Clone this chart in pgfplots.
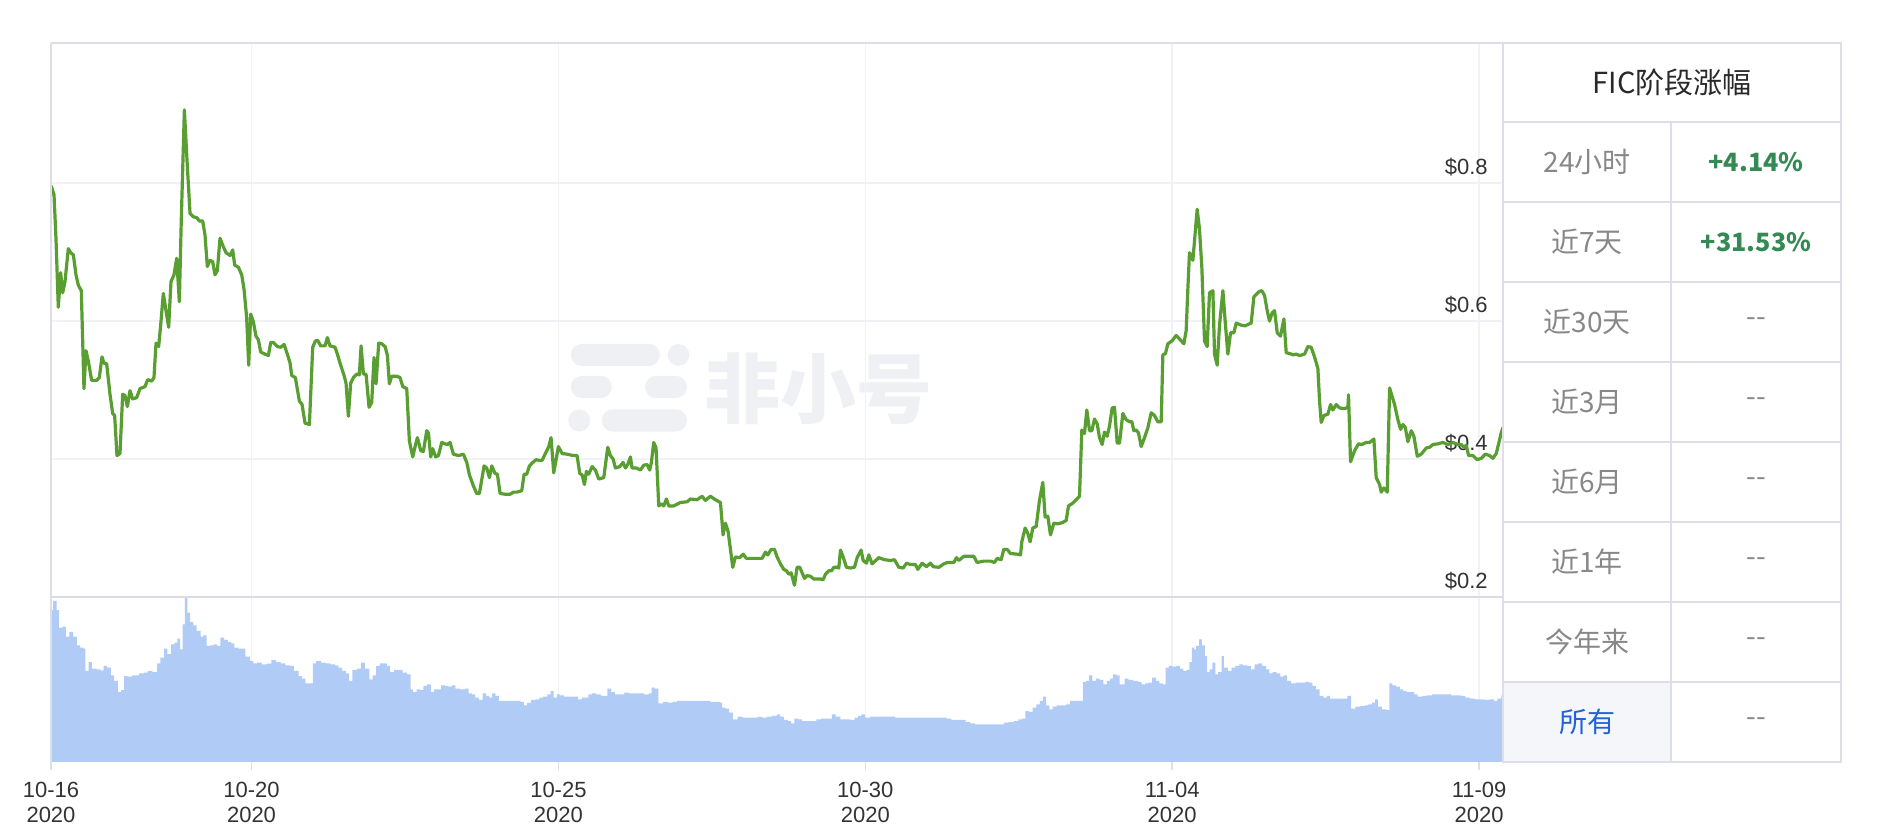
\documentclass[border=0pt]{standalone}
\usepackage{fontspec}
\setmainfont{Liberation Sans}
\newfontfamily\cjk{Noto Sans CJK SC}
\usepackage{pgfplots}
\pgfplotsset{compat=1.18}
\definecolor{pricegreen}{RGB}{88,158,48}
\definecolor{volblue}{RGB}{176,203,246}
\definecolor{gridc}{RGB}{241,242,246}
\definecolor{borderc}{RGB}{221,222,234}
\definecolor{labc}{RGB}{51,51,51}
\definecolor{tabgray}{RGB}{136,136,136}
\definecolor{tabgreen}{RGB}{52,137,84}
\definecolor{tabblue}{RGB}{33,99,214}
\definecolor{selbg}{RGB}{245,246,250}
\definecolor{wm}{RGB}{238,240,243}
\begin{document}
\begin{tikzpicture}[x=1pt,y=1pt]
\fill[white] (0,0) rectangle (940,417);
% watermark
\fill[wm, rounded corners=5.5pt] (285.4,234) rectangle (330,245);
\fill[wm] (339.25,239.5) circle (5.4);
\fill[wm, rounded corners=5.5pt] (285.4,218) rectangle (305.9,229);
\fill[wm, rounded corners=5.5pt] (322.5,218) rectangle (343.5,229);
\fill[wm] (289.6,206.75) circle (5.5);
\fill[wm, rounded corners=5.5pt] (300.9,201.2) rectangle (343.5,212.3);
\node[text=wm, font=\cjk\bfseries\fontsize{38}{38}\selectfont, inner sep=0pt] at (409,222.8) {非小号};

\begin{axis}[at={(25.5pt,118.5pt)}, anchor=south west, scale only axis,
  width=726pt, height=277pt,
  xmin=0.733, xmax=24.39, ymin=0.2, ymax=1.003,
  axis line style={draw=none},
  xtick={4,9,14,19,24}, xticklabels={},
  ytick={0.2,0.4,0.6,0.8}, yticklabels={\$0.2,\$0.4,\$0.6,\$0.8},
  yticklabel pos=right,
  yticklabel style={anchor=base east, xshift=-7.5pt, yshift=4.25pt, font=\fontsize{11}{12}\selectfont, text=labc, inner sep=0pt},
  grid=major, major grid style={draw=gridc, line width=0.8pt},
  major tick length=0pt]
\addplot[pricegreen, line width=1.6pt, line join=round] table {
d p
0.735 0.796
0.782 0.783
0.814 0.720
0.852 0.620
0.890 0.670
0.923 0.641
0.961 0.657
1.015 0.705
1.053 0.699
1.097 0.696
1.140 0.667
1.178 0.652
1.227 0.644
1.270 0.502
1.303 0.557
1.341 0.542
1.395 0.514
1.477 0.514
1.520 0.518
1.564 0.548
1.596 0.539
1.640 0.538
1.694 0.494
1.738 0.466
1.770 0.463
1.808 0.405
1.857 0.408
1.901 0.494
1.939 0.492
1.977 0.476
2.020 0.499
2.064 0.487
2.129 0.489
2.183 0.502
2.265 0.505
2.308 0.515
2.373 0.513
2.411 0.518
2.444 0.568
2.487 0.563
2.520 0.594
2.563 0.640
2.607 0.615
2.650 0.591
2.688 0.657
2.737 0.667
2.781 0.691
2.824 0.628
2.857 0.751
2.906 0.906
2.954 0.825
2.998 0.756
3.052 0.751
3.107 0.750
3.150 0.745
3.204 0.745
3.242 0.725
3.280 0.679
3.324 0.688
3.367 0.686
3.405 0.667
3.443 0.673
3.487 0.720
3.530 0.710
3.585 0.699
3.650 0.695
3.693 0.703
3.726 0.681
3.786 0.678
3.840 0.667
3.878 0.646
3.921 0.605
3.954 0.536
3.987 0.610
4.030 0.599
4.073 0.578
4.111 0.573
4.150 0.555
4.220 0.552
4.275 0.550
4.313 0.569
4.356 0.569
4.421 0.563
4.475 0.562
4.530 0.566
4.584 0.552
4.628 0.539
4.655 0.521
4.714 0.518
4.780 0.484
4.823 0.479
4.872 0.452
4.943 0.450
4.997 0.562
5.040 0.571
5.078 0.572
5.127 0.564
5.198 0.564
5.236 0.576
5.279 0.564
5.361 0.562
5.399 0.552
5.442 0.539
5.508 0.521
5.540 0.510
5.578 0.462
5.616 0.510
5.660 0.518
5.714 0.523
5.757 0.522
5.785 0.564
5.823 0.523
5.866 0.523
5.915 0.475
5.958 0.482
5.996 0.547
6.029 0.509
6.072 0.568
6.121 0.567
6.176 0.563
6.214 0.550
6.246 0.509
6.284 0.520
6.366 0.520
6.420 0.518
6.464 0.505
6.529 0.502
6.572 0.426
6.627 0.403
6.665 0.418
6.703 0.431
6.757 0.412
6.800 0.411
6.855 0.441
6.882 0.438
6.920 0.403
6.952 0.415
7.001 0.403
7.045 0.405
7.099 0.424
7.154 0.422
7.192 0.421
7.235 0.424
7.289 0.407
7.371 0.405
7.452 0.407
7.507 0.395
7.550 0.377
7.615 0.361
7.670 0.350
7.713 0.350
7.789 0.390
7.832 0.387
7.876 0.373
7.914 0.390
7.968 0.379
8.006 0.378
8.050 0.350
8.131 0.349
8.213 0.349
8.267 0.352
8.321 0.352
8.403 0.354
8.441 0.378
8.484 0.378
8.528 0.390
8.582 0.395
8.636 0.399
8.691 0.398
8.734 0.398
8.788 0.408
8.843 0.418
8.880 0.431
8.924 0.380
9.000 0.418
9.060 0.408
9.141 0.407
9.239 0.405
9.304 0.405
9.348 0.379
9.386 0.377
9.424 0.363
9.456 0.382
9.494 0.378
9.549 0.389
9.603 0.384
9.657 0.371
9.739 0.373
9.804 0.417
9.847 0.405
9.891 0.400
9.929 0.387
9.999 0.389
10.054 0.395
10.092 0.387
10.130 0.392
10.173 0.403
10.200 0.387
10.271 0.387
10.336 0.384
10.391 0.391
10.445 0.392
10.488 0.384
10.515 0.395
10.553 0.424
10.591 0.416
10.635 0.332
10.673 0.335
10.716 0.332
10.760 0.342
10.798 0.332
10.879 0.332
10.988 0.337
11.097 0.338
11.151 0.342
11.260 0.341
11.341 0.346
11.395 0.340
11.477 0.346
11.558 0.341
11.640 0.337
11.683 0.290
11.721 0.307
11.765 0.295
11.803 0.269
11.841 0.243
11.884 0.258
11.955 0.257
12.009 0.262
12.063 0.256
12.156 0.256
12.248 0.256
12.319 0.256
12.373 0.265
12.411 0.261
12.466 0.269
12.520 0.269
12.563 0.258
12.618 0.248
12.672 0.240
12.716 0.238
12.754 0.233
12.792 0.235
12.846 0.217
12.889 0.243
12.933 0.243
12.971 0.235
13.009 0.227
13.052 0.231
13.107 0.230
13.161 0.226
13.270 0.226
13.313 0.225
13.351 0.233
13.405 0.238
13.449 0.238
13.487 0.243
13.541 0.243
13.568 0.242
13.596 0.268
13.639 0.258
13.693 0.243
13.758 0.242
13.824 0.243
13.867 0.257
13.932 0.268
13.965 0.253
14.019 0.249
14.057 0.261
14.111 0.248
14.220 0.257
14.312 0.254
14.410 0.253
14.476 0.254
14.546 0.243
14.617 0.242
14.671 0.249
14.736 0.247
14.817 0.247
14.856 0.240
14.926 0.249
14.997 0.244
15.062 0.249
15.105 0.244
15.198 0.243
15.279 0.248
15.334 0.250
15.442 0.250
15.486 0.257
15.524 0.253
15.605 0.259
15.768 0.259
15.822 0.250
15.931 0.252
16.040 0.252
16.105 0.250
16.148 0.256
16.213 0.254
16.257 0.269
16.311 0.269
16.366 0.263
16.485 0.262
16.529 0.261
16.550 0.280
16.604 0.300
16.648 0.292
16.686 0.280
16.729 0.300
16.784 0.302
16.838 0.340
16.892 0.366
16.930 0.316
16.974 0.317
17.017 0.290
17.072 0.307
17.137 0.306
17.218 0.308
17.273 0.311
17.311 0.332
17.381 0.336
17.436 0.341
17.490 0.346
17.528 0.442
17.571 0.437
17.609 0.471
17.653 0.441
17.691 0.441
17.734 0.458
17.778 0.451
17.816 0.431
17.859 0.421
17.897 0.439
17.941 0.433
17.979 0.448
18.022 0.474
18.060 0.475
18.104 0.423
18.142 0.423
18.196 0.466
18.250 0.457
18.305 0.454
18.343 0.454
18.375 0.441
18.413 0.442
18.451 0.438
18.495 0.418
18.549 0.431
18.603 0.445
18.658 0.467
18.712 0.463
18.766 0.454
18.821 0.454
18.848 0.551
18.891 0.553
18.929 0.567
18.995 0.571
19.065 0.579
19.119 0.574
19.190 0.567
19.228 0.586
19.255 0.646
19.282 0.699
19.337 0.688
19.375 0.728
19.407 0.762
19.445 0.733
19.483 0.678
19.527 0.571
19.570 0.563
19.608 0.641
19.663 0.644
19.690 0.552
19.733 0.536
19.771 0.594
19.826 0.644
19.864 0.599
19.907 0.552
19.951 0.583
20.005 0.583
20.043 0.597
20.124 0.594
20.190 0.593
20.233 0.595
20.287 0.597
20.331 0.635
20.385 0.640
20.423 0.643
20.461 0.644
20.505 0.637
20.548 0.615
20.586 0.600
20.630 0.612
20.668 0.615
20.711 0.583
20.765 0.578
20.820 0.603
20.858 0.554
20.912 0.553
20.966 0.551
21.021 0.552
21.075 0.550
21.156 0.552
21.211 0.563
21.265 0.562
21.319 0.548
21.374 0.531
21.401 0.484
21.428 0.453
21.472 0.463
21.537 0.465
21.580 0.479
21.618 0.471
21.673 0.479
21.727 0.474
21.808 0.473
21.863 0.475
21.873 0.493
21.906 0.396
21.971 0.412
22.036 0.422
22.091 0.421
22.161 0.424
22.216 0.424
22.286 0.429
22.324 0.373
22.379 0.363
22.406 0.352
22.449 0.358
22.504 0.352
22.542 0.503
22.623 0.479
22.677 0.457
22.721 0.443
22.759 0.450
22.797 0.446
22.840 0.425
22.895 0.441
22.938 0.433
22.993 0.404
23.058 0.407
23.139 0.416
23.193 0.417
23.248 0.421
23.329 0.422
23.411 0.424
23.492 0.421
23.574 0.424
23.655 0.421
23.710 0.421
23.753 0.417
23.791 0.420
23.829 0.405
23.900 0.405
23.970 0.399
24.035 0.401
24.101 0.407
24.171 0.405
24.226 0.401
24.280 0.408
24.318 0.422
24.361 0.438
24.390 0.446
};
\end{axis}

\begin{axis}[at={(25.5pt,36pt)}, anchor=south west, scale only axis,
  width=726pt, height=82.5pt,
  xmin=0.733, xmax=24.39, ymin=0, ymax=100,
  axis line style={draw=none},
  ytick=\empty,
  xtick={0.733,4,9,14,19,24},
  xticklabels={{10-16\\2020},{10-20\\2020},{10-25\\2020},{10-30\\2020},{11-04\\2020},{11-09\\2020}},
  xticklabel style={align=center, font=\fontsize{11}{12.5}\selectfont, text=labc, inner sep=0pt, yshift=-6pt},
  xmajorgrids, major grid style={draw=gridc, line width=0.8pt},
  xtick style={draw=borderc, line width=0.8pt},
  tick align=outside, major tick length=4pt, xtick pos=left]
\addplot[ybar interval=0.7, fill=volblue, draw=none] table {
d v
0.735 92
0.769 97.6
0.823 92
0.862 81.4
0.923 82
0.977 76
1.031 78.8
1.092 76
1.154 70.7
1.208 69.3
1.261 68.7
1.292 55.2
1.346 60.6
1.400 56.6
1.477 56.2
1.538 55.6
1.592 58.2
1.646 57.2
1.708 52.5
1.761 49.1
1.823 42.4
1.877 43.6
1.923 52.1
1.977 51.7
2.054 52.5
2.107 52.5
2.169 53.7
2.246 54.1
2.307 55.2
2.384 54.5
2.461 59.8
2.515 63.2
2.576 68.7
2.630 65.3
2.692 71.3
2.746 72.3
2.792 74.7
2.838 68.3
2.876 83.4
2.915 100
2.953 90.5
2.999 84.8
3.053 82.8
3.107 79.4
3.169 76
3.215 76.8
3.269 70.3
3.322 70.7
3.384 71.3
3.438 70.3
3.492 75.4
3.553 74
3.615 72.7
3.668 71.9
3.722 69.3
3.784 68.7
3.845 68.7
3.899 63.8
3.976 61.2
4.030 59.8
4.091 60.2
4.168 59.2
4.245 59.6
4.322 61.8
4.399 60.6
4.476 59.8
4.553 58.6
4.630 58.2
4.691 55.2
4.768 52.1
4.822 50.5
4.876 47.7
4.953 47.7
4.999 59.8
5.053 61.2
5.130 60.2
5.206 59.8
5.283 59.2
5.360 58.6
5.414 57.2
5.476 55.2
5.537 53.7
5.591 49.1
5.645 55.8
5.722 56.6
5.783 60.2
5.845 56.6
5.922 50.1
5.975 52.5
6.029 58.2
6.091 59.8
6.152 59.8
6.206 58.2
6.260 54.5
6.322 55.8
6.398 55.8
6.460 54.1
6.537 53.1
6.591 44
6.629 42.4
6.691 44
6.744 43.6
6.798 46.1
6.860 47.1
6.921 42.4
6.975 44
7.029 44
7.091 46.5
7.152 46.1
7.206 45.7
7.260 46.5
7.321 44.4
7.398 44
7.475 44.4
7.537 41.6
7.590 41
7.644 39
7.706 37.6
7.767 41.6
7.821 40
7.875 39
7.921 41.6
7.975 40
8.029 37
8.090 37
8.148 37
8.206 37
8.264 37
8.321 37
8.382 36.4
8.436 34.3
8.490 35.8
8.552 37.6
8.629 38
8.690 39
8.752 39.6
8.821 41
8.875 43
8.921 39
8.975 41
9.028 40.4
9.090 39.6
9.167 39.6
9.244 39.6
9.321 38
9.382 39
9.436 39
9.490 41
9.551 41.6
9.613 41
9.690 40
9.744 40
9.797 44.4
9.859 42.4
9.920 41
9.997 41
10.074 42
10.151 41.6
10.228 41.6
10.320 41.6
10.397 41
10.474 41.6
10.520 45
10.566 44.4
10.628 35.6
10.705 36.4
10.782 36
10.859 36.4
10.936 37
11.012 37
11.089 37
11.166 37
11.243 37
11.320 37
11.397 37
11.474 36.4
11.551 36.4
11.628 36
11.666 32.9
11.720 32.3
11.781 29.9
11.843 25.9
11.920 27.5
11.997 26.9
12.089 26.9
12.166 26.9
12.243 27.3
12.320 26.9
12.397 27.5
12.474 27.9
12.558 28.9
12.612 27.5
12.675 25.5
12.737 24.8
12.791 23.4
12.846 26.3
12.908 25.9
12.971 24.8
13.049 24.8
13.127 24.8
13.204 25.9
13.282 26.3
13.360 26.3
13.415 26.3
13.454 28.9
13.516 27.5
13.594 25.9
13.672 25.9
13.750 25.5
13.828 26.9
13.882 27.9
13.937 28.9
13.999 26.9
14.077 27.5
14.136 27.5
14.194 27.5
14.253 27.5
14.311 27.5
14.370 27.5
14.428 27.5
14.487 26.9
14.545 26.9
14.604 26.9
14.662 26.9
14.720 26.9
14.778 26.9
14.837 26.9
14.895 26.9
14.954 26.9
15.012 26.9
15.071 26.9
15.129 26.9
15.180 26.9
15.230 26.9
15.324 26.3
15.402 25.5
15.480 25.5
15.558 25.5
15.636 24.2
15.713 23.4
15.791 22.8
15.869 22.8
15.928 22.8
15.986 22.8
16.045 22.8
16.103 22.8
16.181 22.8
16.259 23.8
16.337 24.2
16.415 24.8
16.493 25.9
16.555 26.3
16.610 30.9
16.664 30.3
16.726 32.9
16.789 34.9
16.843 37
16.898 39.6
16.945 34.3
16.999 31.9
17.054 33.5
17.116 34.3
17.194 34.3
17.272 34.9
17.334 37
17.412 37
17.490 37
17.545 48.5
17.599 49.1
17.646 52.5
17.700 49.1
17.755 50.5
17.817 49.7
17.880 47.1
17.934 49.1
17.989 50.5
18.035 53.1
18.090 52.5
18.145 47.1
18.223 50.5
18.285 49.7
18.363 49.1
18.441 48.5
18.503 47.1
18.558 47.7
18.612 48.1
18.674 51.1
18.737 49.1
18.791 47.7
18.846 47.1
18.893 57.2
18.947 58.2
19.002 57.8
19.064 58.2
19.126 56.6
19.181 55.2
19.235 55.8
19.282 60.6
19.321 69.3
19.360 68.3
19.391 70.3
19.438 74.3
19.485 70.7
19.532 64.2
19.571 54.5
19.609 56.2
19.656 60.2
19.703 53.1
19.750 54.5
19.804 64.2
19.843 57.2
19.906 55.2
19.968 57.2
20.030 58.2
20.093 59.2
20.155 58.6
20.217 58.2
20.280 56.2
20.342 59.2
20.404 59.8
20.467 58.2
20.529 56.2
20.583 53.7
20.638 54.5
20.700 53.7
20.763 51.7
20.817 52.5
20.872 49.1
20.934 47.7
21.012 48.1
21.090 48.1
21.168 48.5
21.230 48.1
21.285 46.1
21.339 44
21.402 40
21.464 39
21.519 40
21.573 38.4
21.635 38.4
21.713 38.4
21.791 38.4
21.854 40
21.916 32.3
21.986 33.5
22.064 33.9
22.142 34.3
22.196 34.9
22.259 36
22.306 38
22.352 33.5
22.415 31.9
22.493 31.5
22.539 47.7
22.586 46.5
22.648 45.7
22.711 44
22.765 43
22.820 42.4
22.882 42.4
22.944 41
22.999 39.6
23.077 40
23.155 40.4
23.233 41
23.311 41
23.389 41
23.467 41
23.544 40.4
23.622 40.4
23.700 40
23.778 39
23.856 38.4
23.934 38
24.012 38
24.090 37.6
24.168 38
24.246 37
24.300 38.4
24.362 40.4
24.390 40.4
};
\end{axis}

% frame lines
\draw[borderc, line width=1pt] (25.5,395.5) -- (920.5,395.5);
\draw[borderc, line width=1pt] (25.5,395.5) -- (25.5,36);
\draw[borderc!110, line width=1.2pt] (25.5,118.5) -- (751.5,118.5);
% table
\fill[selbg] (751.5,36) rectangle (835.5,76);
\draw[borderc, line width=1pt] (751.5,36) rectangle (920.5,395.5);
\foreach \yy in {356,316,276,236,196,156,116,76} \draw[borderc, line width=1pt] (751.5,\yy) -- (920.5,\yy);
\draw[borderc, line width=1pt] (835.5,36) -- (835.5,356);
\begin{scope}[every node/.style={font=\cjk\fontsize{14}{15}\selectfont, inner sep=0pt}]
\node[text=labc!80!black, font=\cjk\fontsize{14.5}{15}\selectfont] at (836,375.75) {FIC阶段涨幅};
\node[text=tabgray] at (793.5,336) {24小时};
\node[text=tabgray] at (793.5,296) {近7天};
\node[text=tabgray] at (793.5,256) {近30天};
\node[text=tabgray] at (793.5,216) {近3月};
\node[text=tabgray] at (793.5,176) {近6月};
\node[text=tabgray] at (793.5,136) {近1年};
\node[text=tabgray] at (793.5,96) {今年来};
\node[text=tabblue] at (793.5,56) {所有};
\node[text=tabgreen, font=\cjk\bfseries\fontsize{12.6}{14}\selectfont] at (878,336) {+4.14\%};
\node[text=tabgreen, font=\cjk\bfseries\fontsize{12.6}{14}\selectfont] at (878,296) {+31.53\%};
\foreach \yy in {256,216,176,136,96,56} \node[text=tabgray] at (878,\yy) {--};
\end{scope}
\end{tikzpicture}
\end{document}
